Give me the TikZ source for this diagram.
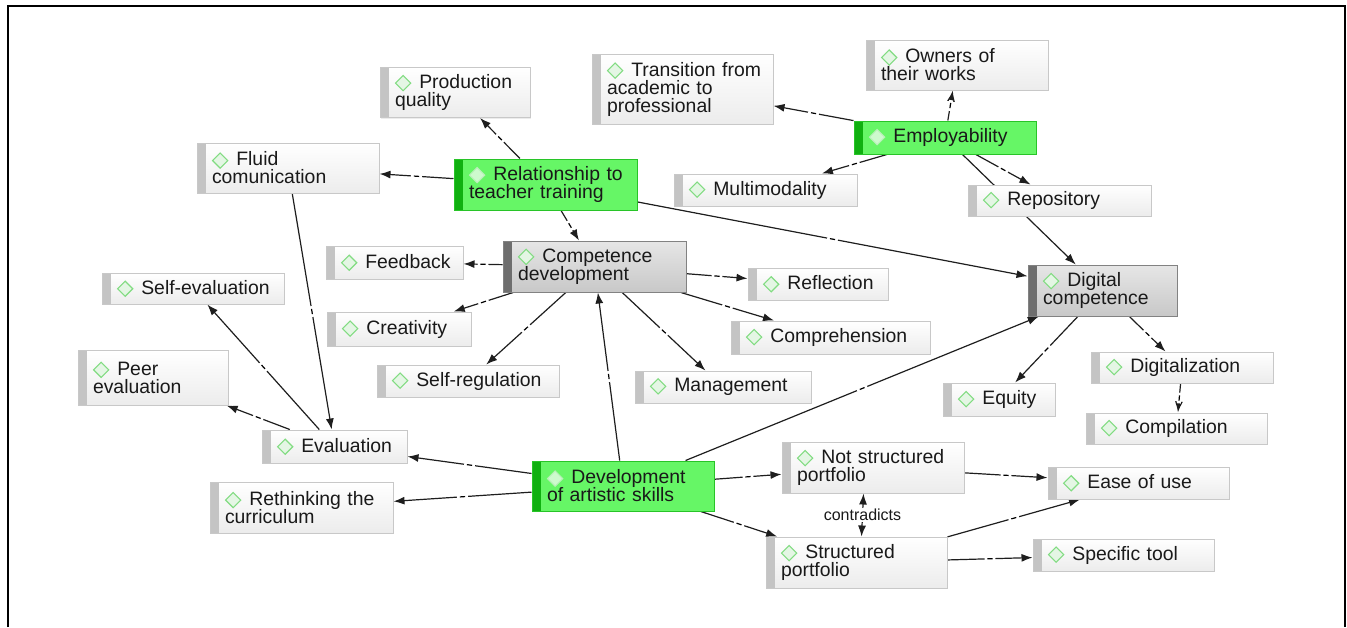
\documentclass[tikz,border=0pt]{standalone}
\usepackage{fontspec}
\setmainfont{Liberation Sans}
\usepackage{tikz}
\usetikzlibrary{arrows.meta, backgrounds, shadows}
\definecolor{BoxLine}{RGB}{200,200,200}
\definecolor{BoxBot}{RGB}{236,236,236}
\definecolor{BarGray}{RGB}{196,196,196}
\definecolor{HubFill}{RGB}{102,246,102}
\definecolor{HubLine}{RGB}{40,196,40}
\definecolor{HubBar}{RGB}{16,176,16}
\definecolor{CoreTop}{RGB}{230,230,230}
\definecolor{CoreBot}{RGB}{200,200,200}
\definecolor{CoreLine}{RGB}{130,130,130}
\definecolor{CoreBar}{RGB}{110,110,110}
\definecolor{DiaLine}{RGB}{130,220,130}
\definecolor{DiaFill}{RGB}{228,246,228}
\definecolor{HubDiaLine}{RGB}{185,240,185}
\definecolor{HubDiaFill}{RGB}{205,250,205}
\definecolor{TxtDark}{RGB}{25,25,25}
\definecolor{LineDark}{RGB}{30,30,30}
\newcommand{\boxfont}{\fontsize{9.7}{9}\selectfont\lineskiplimit=-5pt}
\newcommand{\smallfont}{\fontsize{8}{9}\selectfont}
\newcommand{\firstln}[2][Dia]{%
  \mbox{\tikz[baseline=0pt, x=1pt, y=1pt, line width=0.55pt]
    \filldraw[draw=#1Line, fill=#1Fill] (0,2.7) -- (3.8,6.5) -- (7.6,2.7) -- (3.8,-1.1) -- cycle;%
  \hspace{4pt}#2}}
\newcommand{\dsh}{\rule[-0.3pt]{2.6pt}{0.6pt}}

\begin{document}
\begin{tikzpicture}[
    x=0.5pt, y=-0.5pt,
    bar/.style={
        path picture={\fill[#1] (path picture bounding box.south west)
            rectangle ([xshift=4.5pt]path picture bounding box.north west);}
    },
    box/.style 2 args={
        rectangle,
        draw=BoxLine,
        line width=0.5pt,
        top color=white,
        bottom color=BoxBot,
        /utils/exec={\pgfmathsetlengthmacro\bw{#1*0.5pt-15pt}},
        text width=\bw,
        minimum height=#2*0.5pt,
        inner xsep=7.5pt,
        inner ysep=0pt,
        align=left,
        font=\boxfont,
        text=TxtDark,
        drop shadow={shadow xshift=0.6pt, shadow yshift=-0.6pt, opacity=0.15},
        bar=BarGray
    },
    hub/.style 2 args={box={#1}{#2}, top color=HubFill, bottom color=HubFill,
        draw=HubLine, bar=HubBar},
    core/.style 2 args={box={#1}{#2}, top color=CoreTop, bottom color=CoreBot,
        draw=CoreLine, bar=CoreBar},
    lnk/.style={-{Latex[length=5.5pt, width=4pt]}, line width=0.6pt, draw=LineDark},
    tk/.style={midway, sloped, fill=white, inner xsep=1.4pt, inner ysep=0.7pt}
]
\useasboundingbox (0,0) rectangle (1347,627);
\draw[line width=1pt] (8,627) -- (8,6) -- (1345,6) -- (1345,627);

% TOP ROW
\node[box={150}{50}] (prodq) at (455,92.5) {\firstln{Production}\\quality};
\node[box={181}{70}] (trans) at (682.5,89) {\firstln{Transition from}\\academic to\\professional};
\node[box={182}{50}] (owners) at (957,65) {\firstln{Owners of}\\their works};
\node[box={182}{50}] (fluid) at (288,168) {\firstln{Fluid}\\comunication};
\node[hub={183}{51}] (reltt) at (545.5,184.5) {\firstln[HubDia]{Relationship to}\\teacher training};
\node[hub={182}{33}] (employ) at (945,137.5) {\firstln[HubDia]{Employability}};
\node[box={183}{32}] (multi) at (765.5,190) {\firstln{Multimodality}};
\node[box={183}{31}] (repo) at (1059.5,200.5) {\firstln{Repository}};

% COMPETENCE
\node[core={183}{51}] (compdev) at (594.5,266.5) {\firstln{Competence}\\development};
\node[box={137}{33}] (feedb) at (394.5,262.5) {\firstln{Feedback}};
\node[box={140}{32}] (reflect) at (818,284) {\firstln{Reflection}};
\node[box={144}{34}] (creat) at (399,329) {\firstln{Creativity}};
\node[box={199}{33}] (compreh) at (830.5,337.5) {\firstln{Comprehension}};
\node[box={182}{32}] (selfreg) at (468,381) {\firstln{Self-regulation}};
\node[box={176}{32}] (manage) at (723,387) {\firstln{Management}};

% DIGITAL
\node[core={149}{51}] (digcomp) at (1102.5,290.5) {\firstln{Digital}\\competence};
\node[box={112}{33}] (equity) at (999,399.5) {\firstln{Equity}};
\node[box={182}{31}] (digit) at (1182,367.5) {\firstln{Digitalization}};
\node[box={181}{31}] (compil) at (1176.5,428.5) {\firstln{Compilation}};

% EVALUATION
\node[box={182}{31}] (selfev) at (193,288.5) {\firstln{Self-evaluation}};
\node[box={150}{55}] (peer) at (153,377.5) {\firstln{Peer}\\evaluation};
\node[box={145}{33}] (evalu) at (334.5,446.5) {\firstln{Evaluation}};
\node[box={183}{51}] (rethink) at (301.5,507.5) {\firstln{Rethinking the}\\curriculum};

% ARTISTIC SKILLS
\node[hub={182}{50}] (devart) at (623,486) {\firstln[HubDia]{Development}\\of artistic skills};
\node[box={182}{51}] (notstr) at (873,467.5) {\firstln{Not structured}\\portfolio};
\node[box={181}{51}] (struct) at (856.5,562.5) {\firstln{Structured}\\portfolio};
\node[box={181}{32}] (ease) at (1138.5,483) {\firstln{Ease of use}};
\node[box={181}{32}] (spec) at (1123.5,555) {\firstln{Specific tool}};

% CONNECTIONS
\begin{scope}[on background layer]
\draw[lnk] (reltt) -- node[tk]{\dsh} (prodq);
\draw[lnk] (reltt) -- node[tk]{\dsh} (fluid);
\draw[lnk] (reltt) -- node[tk]{\dsh} (compdev);
\draw[lnk] (reltt) -- node[tk]{\dsh} (digcomp);

\draw[lnk] (employ) -- node[tk]{\dsh} (trans);
\draw[lnk] (employ) -- node[tk]{\dsh} (owners);
\draw[lnk] (employ) -- node[tk]{\dsh} (multi);
\draw[lnk] (employ) -- node[tk]{\dsh} (repo);
\draw[lnk] (employ) -- (digcomp);

\draw[lnk] (compdev) -- node[tk]{\dsh} (feedb);
\draw[lnk] (compdev) -- node[tk]{\dsh} (creat);
\draw[lnk] (compdev) -- node[tk]{\dsh} (selfreg);
\draw[lnk] (compdev) -- node[tk]{\dsh} (manage);
\draw[lnk] (compdev) -- node[tk]{\dsh} (reflect);
\draw[lnk] (compdev) -- node[tk]{\dsh} (compreh);

\draw[lnk] (digcomp) -- node[tk]{\dsh} (equity);
\draw[lnk] (digcomp) -- node[tk]{\dsh} (digit);
\draw[lnk] (digit) -- node[tk]{\dsh} (compil);

\draw[lnk] (fluid) -- node[tk]{\dsh} (evalu);
\draw[lnk] (evalu) -- node[tk]{\dsh} (selfev);
\draw[lnk] (evalu) -- node[tk]{\dsh} (peer);

\draw[lnk] (devart) -- node[tk]{\dsh} (evalu);
\draw[lnk] (devart) -- node[tk]{\dsh} (rethink);
\draw[lnk] (devart) -- node[tk]{\dsh} (compdev);
\draw[lnk] (devart) -- node[tk]{\dsh} (digcomp);
\draw[lnk] (devart) -- node[tk]{\dsh} (notstr);
\draw[lnk] (devart) -- node[tk]{\dsh} (struct);

\draw[lnk] (notstr) -- node[tk]{\dsh} (ease);
\draw[lnk] (struct) -- node[tk]{\dsh} (ease);
\draw[lnk] (struct) -- node[tk]{\dsh} (spec);

\draw[lnk, {Latex[length=5.5pt, width=4pt]}-{Latex[length=5.5pt, width=4pt]}]
    ([xshift=-4.75pt]notstr.south) -- node[fill=white, font=\smallfont, text=TxtDark,
    inner sep=0.6pt] {contradicts} ([xshift=2.5pt]struct.north);
\end{scope}

\end{tikzpicture}
\end{document}
